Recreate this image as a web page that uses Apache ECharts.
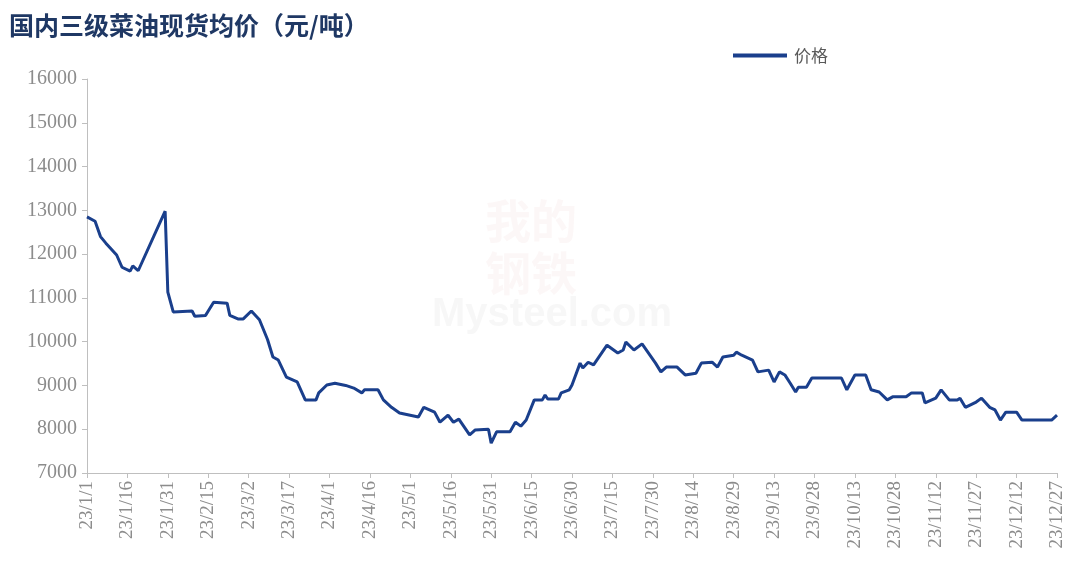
<!DOCTYPE html>
<html>
<head>
<meta charset="utf-8">
<script src="https://cdn.jsdelivr.net/npm/echarts@6/dist/echarts.min.js"></script>
<style>
html, body { margin: 0; padding: 0; background: #fff; }
#main { width: 1070px; height: 568px; }
</style>
</head>
<body>
<div id="main"></div>
<script>
// 国内三级菜油现货均价 2023
var dates = [
    '2023-01-01', '2023-01-04', '2023-01-06', '2023-01-08', '2023-01-12', '2023-01-14', '2023-01-17', '2023-01-18',
    '2023-01-20', '2023-01-30', '2023-01-31', '2023-02-02', '2023-02-09', '2023-02-10', '2023-02-14', '2023-02-15',
    '2023-02-17', '2023-02-22', '2023-02-23', '2023-02-26', '2023-02-28', '2023-03-03', '2023-03-06', '2023-03-09',
    '2023-03-11', '2023-03-13', '2023-03-16', '2023-03-20', '2023-03-23', '2023-03-27', '2023-03-28', '2023-03-31',
    '2023-04-03', '2023-04-07', '2023-04-10', '2023-04-13', '2023-04-14', '2023-04-19', '2023-04-21', '2023-04-24',
    '2023-04-27', '2023-05-04', '2023-05-06', '2023-05-10', '2023-05-12', '2023-05-15', '2023-05-17', '2023-05-19',
    '2023-05-23', '2023-05-25', '2023-05-30', '2023-05-31', '2023-06-02', '2023-06-07', '2023-06-09', '2023-06-11',
    '2023-06-13', '2023-06-16', '2023-06-19', '2023-06-20', '2023-06-21', '2023-06-25', '2023-06-26', '2023-06-29',
    '2023-06-30', '2023-07-03', '2023-07-04', '2023-07-06', '2023-07-08', '2023-07-13', '2023-07-17', '2023-07-19',
    '2023-07-20', '2023-07-23', '2023-07-26', '2023-07-31', '2023-08-02', '2023-08-04', '2023-08-08', '2023-08-11',
    '2023-08-15', '2023-08-17', '2023-08-21', '2023-08-23', '2023-08-25', '2023-08-29', '2023-08-30', '2023-09-01',
    '2023-09-05', '2023-09-07', '2023-09-11', '2023-09-13', '2023-09-15', '2023-09-17', '2023-09-19', '2023-09-21',
    '2023-09-22', '2023-09-25', '2023-09-27', '2023-10-08', '2023-10-10', '2023-10-13', '2023-10-17', '2023-10-19',
    '2023-10-22', '2023-10-25', '2023-10-27', '2023-11-01', '2023-11-03', '2023-11-07', '2023-11-08', '2023-11-12',
    '2023-11-14', '2023-11-17', '2023-11-20', '2023-11-21', '2023-11-23', '2023-11-27', '2023-11-29', '2023-12-02',
    '2023-12-04', '2023-12-06', '2023-12-08', '2023-12-12', '2023-12-14', '2023-12-25', '2023-12-27'
];
var prices = [
    12850, 12750, 12400, 12250, 11980, 11700, 11610, 11730,
    11620, 12980, 11130, 10680, 10700, 10580, 10600, 10700,
    10900, 10880, 10600, 10520, 10520, 10700, 10500, 10050,
    9650, 9580, 9190, 9080, 8670, 8670, 8830, 9010,
    9050, 9000, 8940, 8830, 8900, 8900, 8670, 8500,
    8370, 8280, 8500, 8390, 8160, 8320, 8160, 8230,
    7870, 7980, 8000, 7680, 7940, 7940, 8160, 8070,
    8210, 8670, 8670, 8780, 8690, 8690, 8830, 8900,
    9010, 9510, 9400, 9530, 9470, 9920, 9740, 9810,
    9990, 9810, 9950, 9510, 9310, 9420, 9420, 9240,
    9280, 9510, 9530, 9420, 9650, 9690, 9760, 9690,
    9580, 9310, 9350, 9080, 9310, 9240, 9050, 8850,
    8960, 8960, 9170, 9170, 8900, 9240, 9240, 8900,
    8850, 8670, 8740, 8740, 8830, 8830, 8600, 8710,
    8900, 8670, 8670, 8710, 8500, 8620, 8710, 8500,
    8440, 8210, 8390, 8390, 8210, 8210, 8320
];
var startDate = '2023-01-01';
var endDate = '2023-12-27';
var tickDays = 15;
var yMin = 7000, yMax = 16000, yStep = 1000;

var DAY = 86400000;
var t0 = new Date(startDate + 'T00:00:00Z').getTime();
function dayIndex(s) {
    return Math.round((new Date(s + 'T00:00:00Z').getTime() - t0) / DAY);
}
function dayLabel(d) {
    var dt = new Date(t0 + d * DAY);
    return String(dt.getUTCFullYear()).slice(2) + '/' + (dt.getUTCMonth() + 1) + '/' + dt.getUTCDate();
}

var seriesData = dates.map(function (d, i) { return [dayIndex(d), prices[i]]; });

var myChart = echarts.init(document.getElementById('main'));
myChart.setOption({
    backgroundColor: '#fff',
    animation: false,
    title: {
        text: '国内三级菜油现货均价（元/吨）',
        left: 4,
        top: 8,
        textStyle: {
            fontFamily: 'Noto Sans CJK SC',
            fontSize: 25,
            fontWeight: 'bold',
            color: '#1f3864'
        }
    },
    legend: {
        left: 728,
        top: 42,
        itemWidth: 54,
        itemHeight: 4,
        icon: 'rect',
        itemGap: 10,
        textStyle: { fontFamily: 'Noto Sans CJK SC', fontSize: 17, color: '#595959', padding: [0, 0, 0, 2] },
        data: ['价格']
    },
    graphic: [
        {
            type: 'text',
            left: 485,
            top: 195,
            silent: true,
            style: { text: '我的\n钢铁', font: 'bold 46px "Noto Sans CJK SC"', fill: 'rgba(200,120,120,0.06)', lineHeight: 52 }
        },
        {
            type: 'text',
            left: 432,
            top: 295,
            silent: true,
            style: { text: 'Mysteel.com', font: 'bold 40px "Liberation Sans"', fill: 'rgba(190,190,190,0.12)' }
        }
    ],
    grid: {
        left: 87,
        right: 13,
        top: 79,
        bottom: 95,
        containLabel: false
    },
    xAxis: {
        type: 'value',
        min: 0,
        max: dayIndex(endDate),
        interval: tickDays,
        axisLine: { lineStyle: { color: '#bfbfbf', width: 1 } },
        axisTick: { show: true, length: 5, lineStyle: { color: '#bfbfbf' } },
        splitLine: { show: false },
        axisLabel: {
            rotate: 90,
            margin: 8,
            fontFamily: 'Liberation Serif',
            fontSize: 19,
            color: '#8c8c8c',
            showMinLabel: true,
            showMaxLabel: true,
            formatter: function (v) { return dayLabel(v); }
        }
    },
    yAxis: {
        type: 'value',
        min: yMin,
        max: yMax,
        interval: yStep,
        axisLine: { show: true, lineStyle: { color: '#bfbfbf', width: 1 } },
        axisTick: { show: true, length: 5, lineStyle: { color: '#bfbfbf' } },
        splitLine: { show: false },
        axisLabel: {
            margin: 10,
            fontFamily: 'Liberation Serif',
            fontSize: 20,
            color: '#8c8c8c',
            formatter: function (v) { return String(v); }
        }
    },
    series: [
        {
            name: '价格',
            type: 'line',
            data: seriesData,
            showSymbol: false,
            symbol: 'none',
            lineStyle: { width: 3, color: '#1a3f8c' },
            itemStyle: { color: '#1a3f8c' }
        }
    ]
});

window.addEventListener('resize', () => {
    myChart.resize()
})
</script>
</body>
</html>
